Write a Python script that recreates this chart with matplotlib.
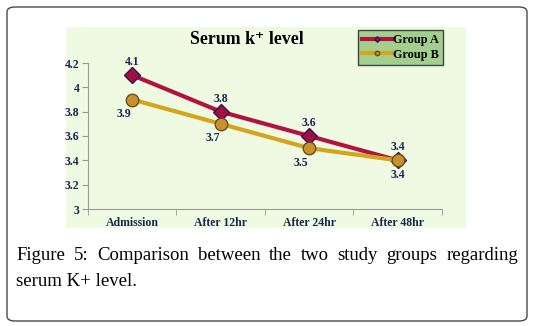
import numpy as np
import matplotlib.pyplot as plt
from matplotlib.patches import FancyBboxPatch, Rectangle

# data
times = ["Admission", "After 12hr", "After 24hr", "After 48hr"]
group_a = [4.1, 3.8, 3.6, 3.4]
group_b = [3.9, 3.7, 3.5, 3.4]
y_ticks = [3, 3.2, 3.4, 3.6, 3.8, 4, 4.2]
y_tick_labels = ["3", "3.2", "3.4", "3.6", "3.8", "4", "4.2"]
caption_1 = "Figure 5: Comparison between the two study groups regarding"
caption_2 = "serum K+ level."

W, H = 534, 326
fig = plt.figure(figsize=(W / 100, H / 100), dpi=100)
fig.patch.set_facecolor("white")

def fx(px):
    return px / W

def fy(py):
    return 1 - py / H

# outer rounded frame
frame = FancyBboxPatch((fx(7), fy(321)), fx(520), 314 / H,
                       boxstyle="round,pad=0,rounding_size=0.015",
                       transform=fig.transFigure, facecolor="white",
                       edgecolor="#4a4a4a", linewidth=1.0, zorder=-3)
fig.patches.append(frame)

# chart panel background
panel = Rectangle((fx(66), fy(228)), fx(400), 201 / H,
                  transform=fig.transFigure, facecolor="#eefbe2",
                  edgecolor="none", zorder=-2)
fig.patches.append(panel)

ax = fig.add_axes([fx(88), fy(209), fx(354), 146 / H])
ax.set_facecolor("none")

x = np.arange(len(times))
serif = "Liberation Serif"
navy = "#1c2250"

ax.plot(x, group_a, color="#b3123f", linewidth=3, marker="D", markersize=8,
        markerfacecolor="#a01040", markeredgecolor="#3a1050", zorder=3,
        label="Group A")
ax.plot(x, group_b, color="#d4a51c", linewidth=3, marker="o", markersize=9,
        markerfacecolor="#c9902e", markeredgecolor="#6a4a20", zorder=3,
        label="Group B")

for xi, a, b in zip(x, group_a, group_b):
    ax.annotate(f"{a}", (xi, a), xytext=(0, 5), textcoords="offset points",
                ha="center", va="bottom", fontsize=8.5, fontweight="bold",
                family=serif, color=navy)
    ax.annotate(f"{b}", (xi, b), xytext=(-6 if xi < 3 else 0, -6),
                textcoords="offset points", ha="center", va="top",
                fontsize=8.5, fontweight="bold", family=serif, color=navy)

ax.set_xlim(-0.5, 3.5)
ax.set_ylim(3, 4.2)
ax.set_yticks(y_ticks)
ax.set_yticklabels(y_tick_labels, family=serif, fontweight="bold",
                   fontsize=8.5, color=navy)
ax.set_xticks(x)
ax.set_xticklabels(times, family=serif, fontweight="bold", fontsize=8.5,
                   color=navy)
ax.set_xticks(np.arange(-0.5, 4, 1), minor=True)
ax.tick_params(axis="x", which="major", length=0, pad=6)
ax.tick_params(axis="x", which="minor", length=4, color="#999999")
ax.tick_params(axis="y", length=4, color="#999999", pad=2)
for s in ["top", "right"]:
    ax.spines[s].set_visible(False)
for s in ["left", "bottom"]:
    ax.spines[s].set_color("#999999")
    ax.spines[s].set_linewidth(0.8)

fig.text(fx(247), fy(39), "Serum k\u207a level", ha="center", va="center",
         family=[serif, "DejaVu Serif"], fontweight="bold", fontsize=12.8,
         color="black")

leg = fig.legend(loc="upper left", bbox_to_anchor=(fx(358), fy(30)),
                 borderaxespad=0,
                 prop={"family": serif, "weight": "bold", "size": 8.8},
                 frameon=True, fancybox=False, handlelength=2.4,
                 handletextpad=0.1, borderpad=0.35, labelspacing=0.2,
                 markerscale=0.35)
leg.get_frame().set_facecolor("#a2cf8e")
leg.get_frame().set_edgecolor("#3a4a3a")
leg.get_frame().set_alpha(1)

# justified first caption line
renderer = fig.canvas.get_renderer()
words = caption_1.split(" ")
texts = [fig.text(0, fy(256), w, ha="left", va="center", family=serif,
                  fontsize=13.5, color="black") for w in words]
widths = [t.get_window_extent(renderer).width for t in texts]
left, right = 16, 518
gap = (right - left - sum(widths)) / (len(words) - 1)
pos = left
for t, w in zip(texts, widths):
    t.set_x(fx(pos))
    pos += w + gap
fig.text(fx(left), fy(281), caption_2, ha="left", va="center",
         family=serif, fontsize=13.5, color="black")

fig.savefig("out.png", dpi=100)
